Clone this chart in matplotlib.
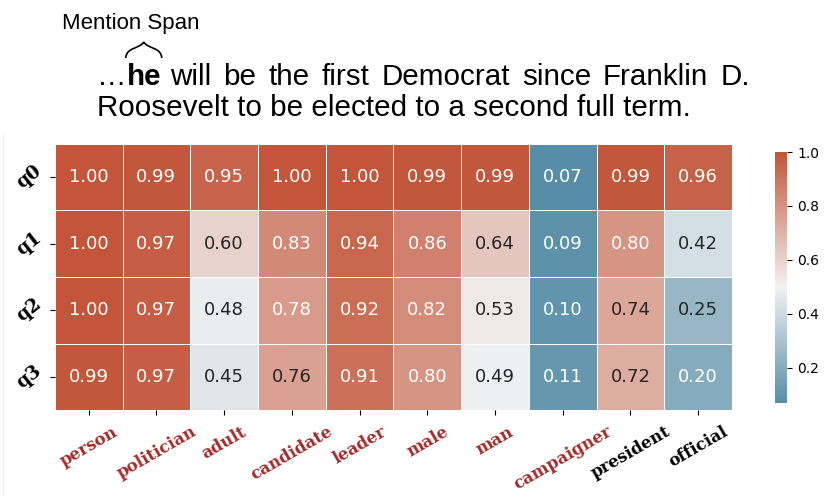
import numpy as np
import matplotlib
matplotlib.use("Agg")
import matplotlib.pyplot as plt
from matplotlib.path import Path
from matplotlib.patches import PathPatch
from matplotlib.lines import Line2D
import seaborn as sns

# labels and scores
rows = ["q0", "q1", "q2", "q3"]
cols = ["person", "politician", "adult", "candidate", "leader",
        "male", "man", "campaigner", "president", "official"]
q0 = [1.00, 0.99, 0.95, 1.00, 1.00, 0.99, 0.99, 0.07, 0.99, 0.96]
q1 = [1.00, 0.97, 0.60, 0.83, 0.94, 0.86, 0.64, 0.09, 0.80, 0.42]
q2 = [1.00, 0.97, 0.48, 0.78, 0.92, 0.82, 0.53, 0.10, 0.74, 0.25]
q3 = [0.99, 0.97, 0.45, 0.76, 0.91, 0.80, 0.49, 0.11, 0.72, 0.20]
# which column labels are drawn in red
highlight = [True, True, True, True, True, True, True, True, False, False]

line1_rest = "will be the first Democrat since Franklin D."
line2 = "Roosevelt to be elected to a second full term."

data = np.array([q0, q1, q2, q3])

W, H = 830, 496
fig = plt.figure(figsize=(W / 100, H / 100), dpi=100)
ax = fig.add_axes([0.066, 0.173, 0.816, 0.537])
cax = fig.add_axes([0.934, 0.1875, 0.0145, 0.506])

cmap = sns.diverging_palette(230, 20, as_cmap=True)
sns.heatmap(data, cmap=cmap, center=0.5, annot=True, fmt=".2f", linewidths=0.5,
            annot_kws={"fontsize": 13}, ax=ax, cbar_ax=cax)

ax.set_xticklabels(cols, rotation=30, ha="center", va="top",
                   family="DejaVu Serif", fontweight="bold", fontsize=12)
for lab, hl in zip(ax.get_xticklabels(), highlight):
    lab.set_color("#a52a2a" if hl else "black")
ax.tick_params(axis="x", pad=6)
ax.set_yticklabels(rows, rotation=38, va="center",
                   family="DejaVu Serif", fontweight="bold", fontsize=13.5)
cax.tick_params(labelsize=10)

# sentence above the heatmap (first line justified, like the source paragraph)
sans = ["Liberation Sans", "DejaVu Sans"]
fs = 21.3
y1, y2 = 1 - 77 / H, 1 - 108 / H
fig.text(62 / W, 1 - 23 / H, "Mention Span", fontsize=16, family=sans, va="center")
t1 = fig.text(97 / W, y1, "\u2026", fontsize=fs, family=sans, va="center")
fig.canvas.draw()
r = fig.canvas.get_renderer()
bb1 = t1.get_window_extent(r)
t2 = fig.text(bb1.x1 / W, y1, "he", fontsize=fs, family=sans,
              fontweight="bold", va="center")
bb2 = t2.get_window_extent(r)

words = line1_rest.split()
arts = [fig.text(0, y1, w_, fontsize=fs, family=sans, va="center") for w_ in words]
widths = [a.get_window_extent(r).width for a in arts]
start, end = bb2.x1 + 9, 750
gap = (end - start - sum(widths)) / (len(words) - 1)
x = start
for a, w_ in zip(arts, widths):
    a.set_x(x / W)
    x += w_ + gap

fig.text(97 / W, y2, line2, fontsize=fs, family=sans, va="center")

# curly brace over "he" (pixel coords, y measured from top)
cx = (bb2.x0 + bb2.x1) / 2
pts = [(cx - 18, 58), (cx - 17.5, 47), (cx - 4, 49), (cx, 42),
       (cx + 4, 49), (cx + 17.5, 47), (cx + 18, 58)]
verts = [(px / W, 1 - py / H) for px, py in pts]
codes = [Path.MOVETO, Path.CURVE4, Path.CURVE4, Path.CURVE4,
         Path.CURVE4, Path.CURVE4, Path.CURVE4]
fig.add_artist(PathPatch(Path(verts, codes), fill=False, lw=1.2,
                         edgecolor="black", transform=fig.transFigure))

# faint frame edge at the left
fig.add_artist(Line2D([3 / W, 3 / W], [0, 1 - 133 / H], color="#eeeeee",
                      lw=0.8, transform=fig.transFigure))

fig.savefig("out.png", dpi=100)
